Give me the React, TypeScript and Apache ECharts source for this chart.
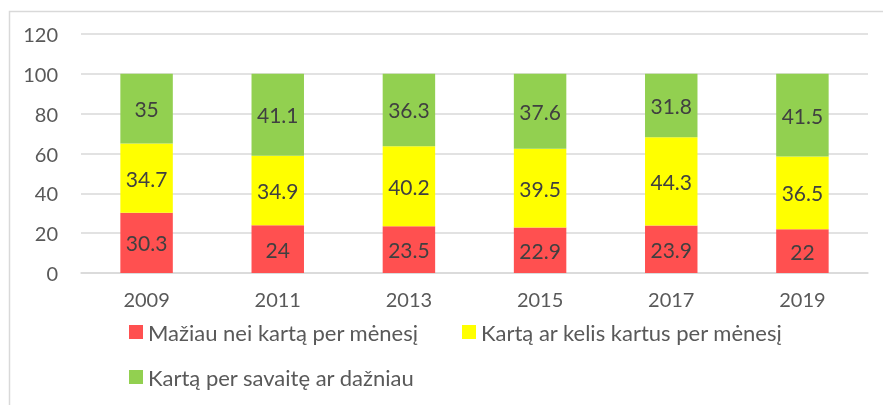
import React, { useEffect, useRef } from "react";
import * as echarts from "echarts";

const categories = ["2009", "2011", "2013", "2015", "2017", "2019"];
const lessThanMonthly = [30.3, 24, 23.5, 22.9, 23.9, 22];
const monthly = [34.7, 34.9, 40.2, 39.5, 44.3, 36.5];
const weekly = [35, 41.1, 36.3, 37.6, 31.8, 41.5];
const seriesNames = [
  "Mažiau nei kartą per mėnesį",
  "Kartą ar kelis kartus per mėnesį",
  "Kartą per savaitę ar dažniau",
];
const colors = ["#FF5050", "#FFFF00", "#92D050"];

const FONT = "Lato";

const legendBase = {
  itemWidth: 14,
  itemHeight: 14,
  padding: 0,
  icon: "rect",
  textStyle: { fontFamily: FONT, fontSize: 22, color: "#595959" },
};

export default function App() {
  const ref = useRef<HTMLDivElement>(null);
  useEffect(() => {
    if (!ref.current) return;
    const chart = echarts.init(ref.current, undefined, { renderer: "svg" });
    const values = [lessThanMonthly, monthly, weekly];
    chart.setOption({
      animation: false,
      textStyle: { fontFamily: FONT },
      graphic: [
        {
          type: "rect",
          shape: { x: 9.5, y: 11.5, width: 900, height: 500 },
          style: { fill: "none", stroke: "#D9D9D9", lineWidth: 1.5 },
          silent: true,
        },
      ],
      grid: { left: 81, right: 15, top: 34, bottom: 132, containLabel: false },
      legend: [
        { ...legendBase, data: [seriesNames[0]], left: 129, top: 321 },
        { ...legendBase, data: [seriesNames[1]], left: 462, top: 321 },
        { ...legendBase, data: [seriesNames[2]], left: 129, top: 366 },
      ],
      xAxis: {
        type: "category",
        data: categories,
        axisLine: { show: true, lineStyle: { color: "#D9D9D9", width: 1.5 } },
        axisTick: { show: false },
        axisLabel: { fontFamily: FONT, fontSize: 20, color: "#595959", margin: 16 },
      },
      yAxis: {
        type: "value",
        min: 0,
        max: 120,
        interval: 20,
        axisLine: { show: false },
        axisTick: { show: false },
        splitLine: { lineStyle: { color: "#D9D9D9", width: 1.5 } },
        axisLabel: { fontFamily: FONT, fontSize: 20, color: "#595959", margin: 23 },
      },
      series: values.map((v, i) => ({
        name: seriesNames[i],
        type: "bar",
        stack: "total",
        data: v,
        barWidth: "40%",
        itemStyle: { color: colors[i] },
        label: {
          show: true,
          position: "inside",
          fontFamily: FONT,
          fontSize: 21,
          color: "#404040",
        },
      })),
    });
    return () => chart.dispose();
  }, []);
  return (
    <div
      ref={ref}
      style={{ position: "fixed", left: 0, top: 0, width: 883, height: 405 }}
    />
  );
}
